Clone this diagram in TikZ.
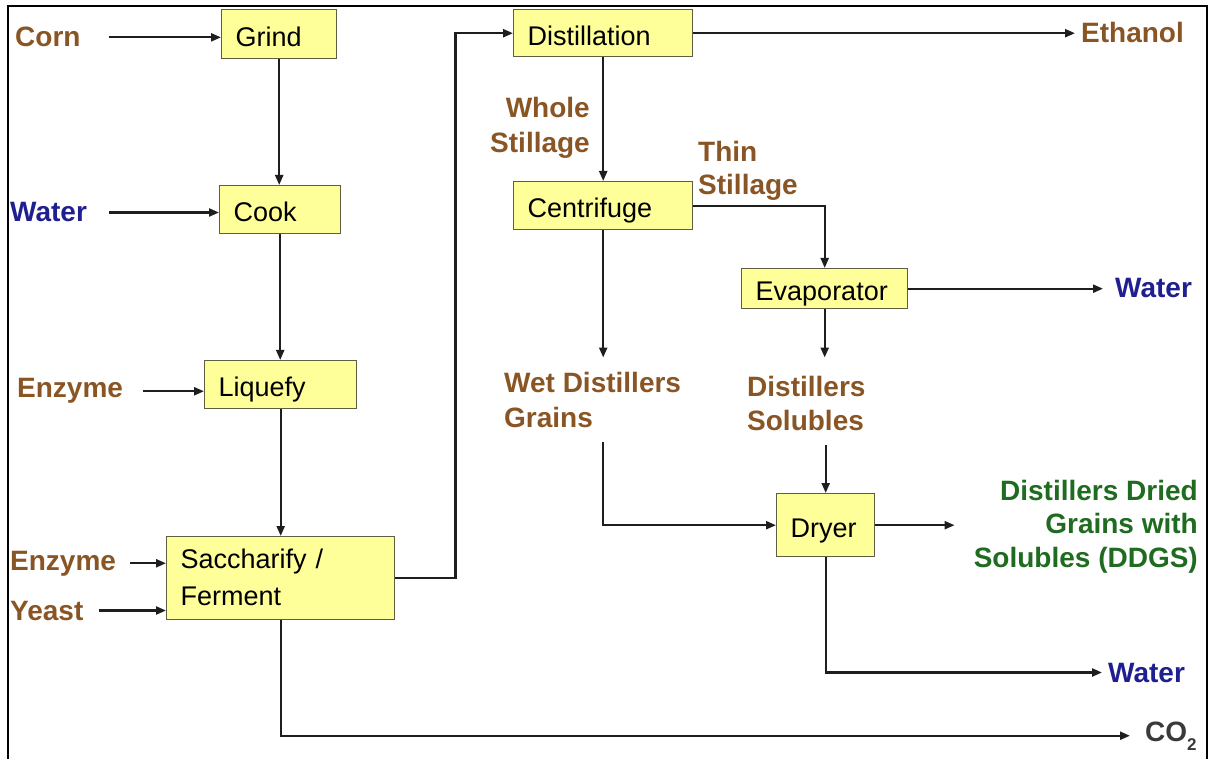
\documentclass[tikz,border=0pt]{standalone}
\usepackage{fontspec}
\setmainfont{Liberation Sans}
\usetikzlibrary{arrows.meta}
\definecolor{boxfill}{HTML}{FFFF99}
\definecolor{boxline}{HTML}{5E5E44}
\definecolor{lblbrown}{HTML}{8A5524}
\definecolor{lblblue}{HTML}{1F1F8F}
\definecolor{lblgreen}{HTML}{1F6B1F}
\definecolor{lblgray}{HTML}{3A3A3A}
\definecolor{wire}{HTML}{1E1E1E}
\begin{document}
\begin{tikzpicture}[x=1pt,y=-1pt,
  box/.style={draw=boxline, fill=boxfill, line width=1.4pt, anchor=north west,
    inner xsep=14pt, inner ysep=2pt, align=left,
    font=\fontsize{27}{37}\selectfont, text height=24pt, text depth=0pt},
  lbl/.style={inner sep=0pt, font=\fontsize{28}{35}\selectfont\bfseries},
  brownlbl/.style={lbl, text=lblbrown},
  bluelbl/.style={lbl, text=lblblue},
  greenlbl/.style={lbl, text=lblgreen},
  graylbl/.style={lbl, text=lblgray},
  flow/.style={draw=wire, line width=2.2pt},
  arr/.style={flow, -{Triangle[length=10pt,width=8pt]}}
]
\useasboundingbox (0,0) rectangle (1211,759);
\draw[line width=2pt, black] (7.5,765) -- (7.5,6) -- (1206.5,6) -- (1206.5,765);

% process boxes
\node[box, text width=87pt,  minimum height=49pt] (grind) at (221,9)   {Grind};
\node[box, text width=93pt,  minimum height=48pt] (cook)  at (219,185) {Cook};
\node[box, text width=124pt, minimum height=48pt] (liq)   at (204,360) {Liquefy};
\node[box, text width=200pt, minimum height=83pt, text depth=43pt] (sacch) at (166,536) {Saccharify /\\Ferment};
\node[box, text width=151pt, minimum height=47pt] (distil) at (513,9)  {Distillation};
\node[box, text width=151pt, minimum height=48pt] (centr) at (513,181) {Centrifuge};
\node[box, text width=138pt, minimum height=40pt] (evap)  at (741,268) {Evaporator};
\node[box, text width=70pt,  minimum height=63pt] (dryer) at (776,493) {Dryer};

% input labels
\node[brownlbl, anchor=base west] (corn)   at (15,47)  {Corn};
\node[bluelbl,  anchor=base west] (water1) at (10,222) {Water};
\node[brownlbl, anchor=base west] (enz1)   at (17,398) {Enzyme};
\node[brownlbl, anchor=base west] (enz2)   at (10,570) {Enzyme};
\node[brownlbl, anchor=base west] (yeast)  at (10,620) {Yeast};

% stream labels (base anchor = baseline of the last line)
\node[brownlbl, anchor=base west] (ethanol) at (1081,43) {Ethanol};
\node[brownlbl, anchor=base east, align=right] (whole) at (590,153) {Whole\\Stillage};
\node[brownlbl, anchor=base west, align=left, font=\fontsize{28}{33}\selectfont\bfseries] (thin) at (698,195) {Thin\\Stillage};
\node[bluelbl,  anchor=base west] (water2) at (1115,298) {Water};
\node[brownlbl, anchor=base west, align=left] (wet) at (504,428) {Wet Distillers\\Grains};
\node[brownlbl, anchor=base west, align=left, font=\fontsize{28}{34}\selectfont\bfseries] (sol) at (747,431) {Distillers\\Solubles};
\node[greenlbl, anchor=base east, align=right, font=\fontsize{28}{33.5}\selectfont\bfseries] (ddgs) at (1198,567) {Distillers Dried\\Grains with\\Solubles (DDGS)};
\node[bluelbl,  anchor=base west] (water3) at (1108,682) {Water};
\node[graylbl,  anchor=base west] (co2) at (1145,741) {CO\raisebox{-9pt}{\fontsize{17}{17}\selectfont 2}};

% inputs
\draw[arr] (corn.east) ++(28,0) -- (corn.east -| grind.west);
\draw[arr] (water1.east) ++(22,0) -- (water1.east -| cook.west);
\draw[arr] (enz1.east) ++(20,0) -- (enz1.east -| liq.west);
\draw[arr] (enz2.east) ++(14,0) -- (enz2.east -| sacch.west);
\draw[arr] (yeast.east) ++(15,0) -- (yeast.east -| sacch.west);

% main line
\draw[arr] (grind.south) -- (grind.south |- cook.north);
\draw[arr] (cook.south) -- (cook.south |- liq.north);
\draw[arr] (liq.south) -- (liq.south |- sacch.north);
\draw[arr] (sacch.east) -- ++(60,0) |- (distil.west);
\draw[arr, shorten >=15pt] (sacch.south) |- (co2.west);

% distillation side
\draw[arr, shorten >=6pt] (distil.east) -- (distil.east -| ethanol.west);
\draw[arr] (distil.south) -- (distil.south |- centr.north);
\draw[arr] (centr.east) -| (evap.north);
\draw[arr, shorten >=15pt] (centr.south) -- (centr.south |- wet.north);
\draw[arr, shorten >=12pt] (evap.east) -- (evap.east -| water2.west);
\draw[arr, shorten >=19pt] (evap.south) -- (evap.south |- sol.north);
\draw[arr] (dryer.north |- sol.south) ++(0,14) -- (dryer.north);
\draw[arr] (centr.south |- wet.south) ++(0,14) |- (dryer.west);
\draw[arr, shorten >=19pt] (dryer.east) -- (dryer.east -| ddgs.west);
\draw[arr, shorten >=6pt] (dryer.south) |- (water3.west);
\end{tikzpicture}
\end{document}
